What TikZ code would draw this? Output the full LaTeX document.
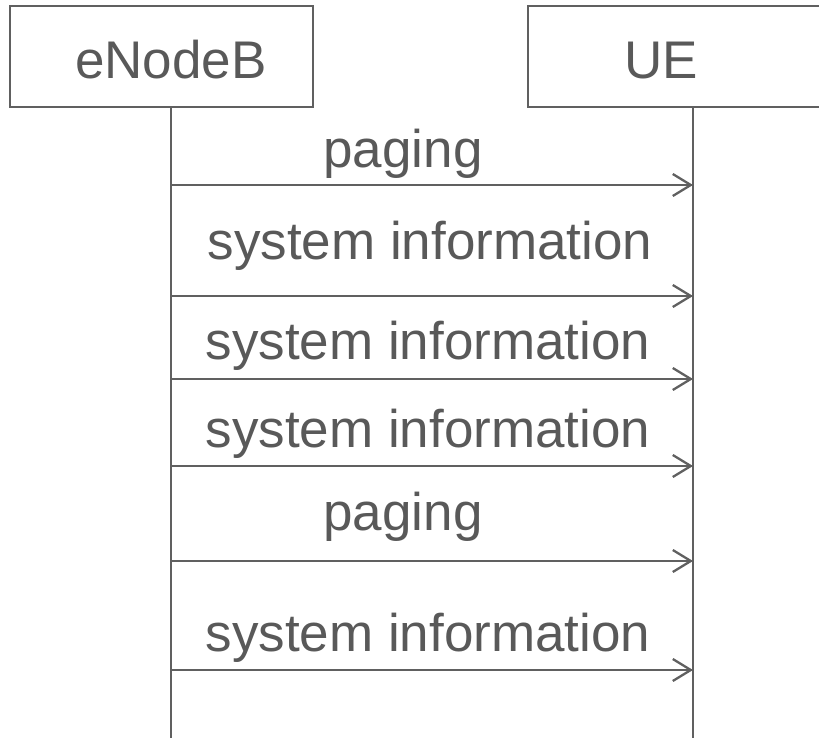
\documentclass[tikz,border=0pt]{standalone}
\usepackage{fontspec}
\setmainfont{Liberation Sans}
\usetikzlibrary{arrows.meta}
\definecolor{txtgray}{HTML}{595959}
\definecolor{lngray}{HTML}{606060}
\tikzset{
  actorbox/.style={draw=lngray,line width=2.8pt},
  lifeline/.style={draw=lngray,line width=2.3pt},
  msgarrow/.style={draw=lngray,line width=2.3pt,-{Straight Barb[length=18pt,width=22pt,line width=2.3pt]}},
  lbl/.style={text=txtgray,font=\fontsize{53}{60}\selectfont,inner sep=0pt,anchor=base},
}
\begin{document}
\begin{tikzpicture}[x=1pt,y=-1pt]
\useasboundingbox (0,0) rectangle (819,738);
\clip (0,0) rectangle (819,738);
% actor boxes
\draw[actorbox] (10,6) rectangle (313,107);
\draw[actorbox] (528,6) rectangle (840,107);
\node[lbl] (enb) at (171,79) {eNodeB};
\node[lbl] (ue) at (661,79) {UE};
% lifelines
\coordinate (a0) at (171,107);
\coordinate (a1) at (171,738);
\coordinate (b0) at (693,107);
\coordinate (b1) at (693,738);
\draw[lifeline] (a0) -- (a1);
\draw[lifeline] (b0) -- (b1);
% message end points
\foreach \i/\y in {1/185,2/296,3/379,4/466,5/561,6/670}{
  \coordinate (s\i) at (171,\y);
  \coordinate (t\i) at (693,\y);
}
\draw[msgarrow] (s1) -- (t1);
\draw[msgarrow] (s2) -- (t2);
\draw[msgarrow] (s3) -- (t3);
\draw[msgarrow] (s4) -- (t4);
\draw[msgarrow] (s5) -- (t5);
\draw[msgarrow] (s6) -- (t6);
% labels
\node[lbl] (m1) at (403,168) {paging};
\node[lbl] (m2) at (430,259) {system information};
\node[lbl] (m3) at (428,359) {system information};
\node[lbl] (m4) at (428,447) {system information};
\node[lbl] (m5) at (403,530) {paging};
\node[lbl] (m6) at (428,651) {system information};
\end{tikzpicture}
\end{document}
